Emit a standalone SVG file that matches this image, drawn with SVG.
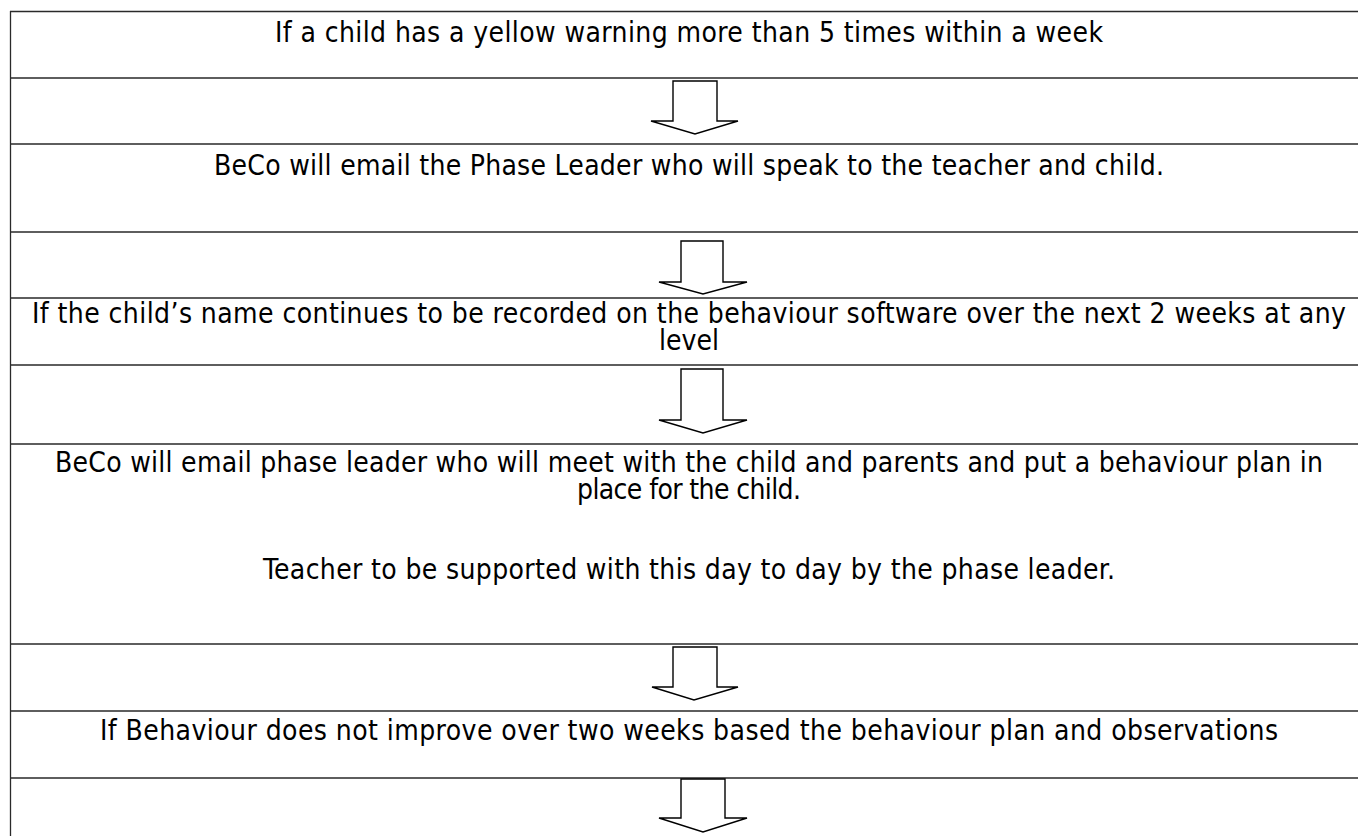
<svg xmlns="http://www.w3.org/2000/svg" width="1358" height="836" viewBox="0 0 1358 836">
<style>
.t{font-family:"DejaVu Sans Condensed","DejaVu Sans",sans-serif;font-size:28px;fill:#000;text-anchor:middle}
.ln{stroke:#2a2a2a;stroke-width:1.3;fill:none}
.ar{fill:#fff;stroke:#000;stroke-width:1.4;stroke-linejoin:miter}
</style>
<rect width="1358" height="836" fill="#fff"/>
<g id="table">
<path class="ln" d="M10.5 11V836M10 11.5H1358M10 78H1358M10 144H1358M10 232H1358M10 298H1358M10 365H1358M10 444H1358M10 644H1358M10 711H1358M10 778H1358"/>
</g>
<g id="n1"><text class="t" x="689" y="42" textLength="828">If a child has a yellow warning more than 5 times within a week</text></g>
<g id="n2"><text class="t" x="689" y="175" textLength="950">BeCo will email the Phase Leader who will speak to the teacher and child.</text></g>
<g id="n3"><text class="t" x="689" y="323" textLength="1314">If the child’s name continues to be recorded on the behaviour software over the next 2 weeks at any</text><text class="t" x="689" y="350">level</text></g>
<g id="n4"><text class="t" x="689" y="472" textLength="1268">BeCo will email phase leader who will meet with the child and parents and put a behaviour plan in</text><text class="t" x="689" y="499" textLength="224">place for the child.</text><text class="t" x="689" y="579" textLength="852">Teacher to be supported with this day to day by the phase leader.</text></g>
<g id="n5"><text class="t" x="689" y="740" textLength="1178">If Behaviour does not improve over two weeks based the behaviour plan and observations</text></g>
<g id="connectors">
<path class="ar" d="M673 81H717V121H738L695 134L651 121H673Z"/>
<path class="ar" d="M681 241H723V282H747L703 294L659 282H681Z"/>
<path class="ar" d="M681 369H723V420H747L703 433L659 420H681Z"/>
<path class="ar" d="M673 647H717V687H738L694 700L652 687H673Z"/>
<path class="ar" d="M681 779H725V818H747L703 832L659 818H681Z"/>
</g>
</svg>
